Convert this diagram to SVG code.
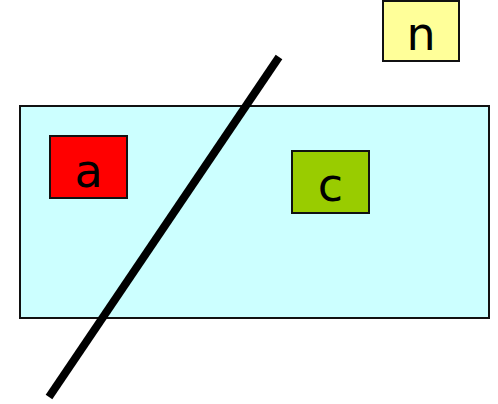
<svg xmlns="http://www.w3.org/2000/svg" width="498" height="404" viewBox="0 0 498 404">
<style>
.box{stroke:#111;stroke-width:2}
.lbl{font-family:"DejaVu Sans",Verdana,sans-serif;font-size:46px;fill:#000;text-anchor:middle}
</style>
<rect width="498" height="404" fill="#fff"/>
<g id="region"><rect class="box" x="20" y="106" width="469" height="212" fill="#CCFFFF"/></g>
<g id="a"><rect class="box" x="50" y="136" width="77" height="62" fill="#FF0000"/><text class="lbl" x="88.5" y="187">a</text></g>
<g id="c"><rect class="box" x="292" y="151" width="77" height="62" fill="#99CC00"/><text class="lbl" x="330.5" y="201">c</text></g>
<g id="n"><rect class="box" x="383" y="1" width="76" height="60" fill="#FFFF99"/><text class="lbl" x="421" y="50">n</text></g>
<g id="connectors"><line x1="279" y1="57" x2="49" y2="397" stroke="#000" stroke-width="8"/></g>
</svg>
